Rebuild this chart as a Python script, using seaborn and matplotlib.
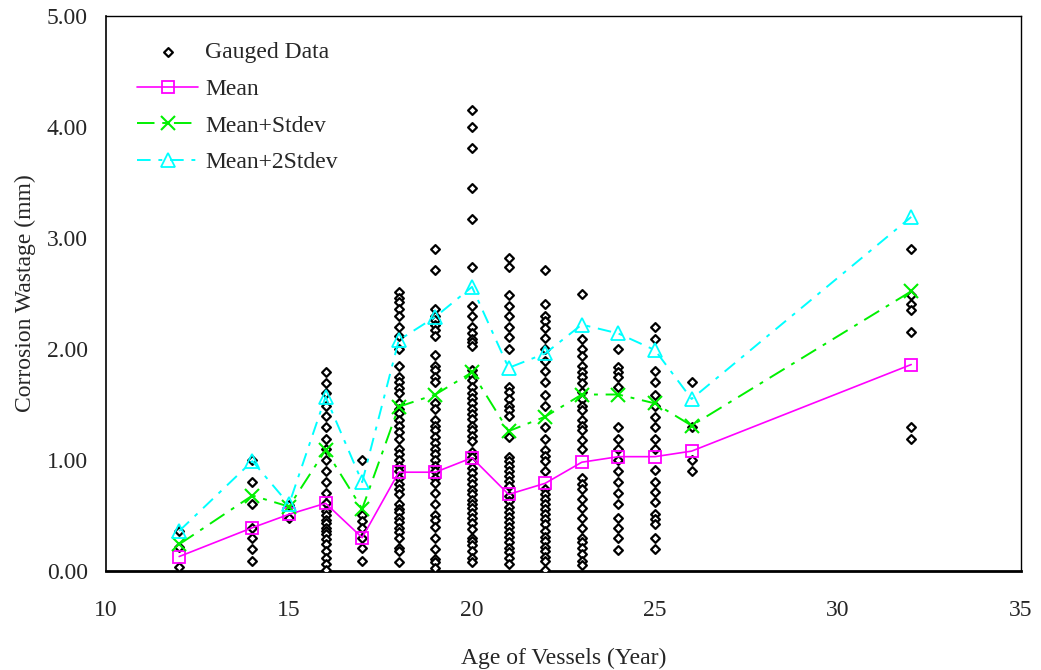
import matplotlib
matplotlib.use("Agg")
import matplotlib.pyplot as plt
from matplotlib.ticker import MultipleLocator, FormatStrFormatter
import numpy as np
import pandas as pd
import seaborn as sns

# Gauged corrosion wastage (mm) by vessel age (years)
age12 = [0.36, 0.22, 0.04]
age14 = [1.00, 0.80, 0.60, 0.39, 0.30, 0.20, 0.09]
age15 = [0.59, 0.48]
age16 = [1.79, 1.69, 1.60, 1.49, 1.40, 1.30, 1.19, 1.10, 1.00, 0.90, 0.80, 0.70,
         0.61, 0.54, 0.50, 0.46, 0.43, 0.39, 0.36, 0.33, 0.29, 0.24, 0.18, 0.12,
         0.06, 0.01]
age17 = [1.00, 0.50, 0.45, 0.39, 0.30, 0.21, 0.09]
age18 = [2.51, 2.46, 2.42, 2.36, 2.30, 2.20, 2.12, 2.00, 1.85, 1.75, 1.70, 1.65,
         1.60, 1.51, 1.46, 1.42, 1.36, 1.31, 1.25, 1.19, 1.10, 1.05, 1.00, 0.95,
         0.90, 0.84, 0.78, 0.74, 0.69, 0.60, 0.56, 0.53, 0.48, 0.44, 0.39, 0.35,
         0.30, 0.21, 0.18, 0.08]
age19 = [2.90, 2.71, 2.36, 2.30, 2.26, 2.22, 2.17, 2.12, 1.95, 1.85, 1.81, 1.75,
         1.70, 1.51, 1.46, 1.36, 1.31, 1.27, 1.21, 1.15, 1.10, 1.05, 1.00, 0.95,
         0.90, 0.84, 0.79, 0.70, 0.60, 0.50, 0.46, 0.40, 0.30, 0.20, 0.11, 0.08,
         0.03]
age20 = [4.15, 4.00, 3.81, 3.45, 3.17, 2.74, 2.39, 2.30, 2.20, 2.14, 2.09, 2.06,
         2.03, 1.81, 1.77, 1.72, 1.66, 1.60, 1.56, 1.51, 1.46, 1.41, 1.37, 1.31,
         1.27, 1.22, 1.17, 1.07, 1.03, 0.98, 0.93, 0.88, 0.83, 0.78, 0.73, 0.69,
         0.64, 0.60, 0.57, 0.52, 0.48, 0.43, 0.38, 0.30, 0.27, 0.23, 0.18, 0.12,
         0.08]
age21 = [2.82, 2.74, 2.49, 2.39, 2.30, 2.20, 2.11, 2.00, 1.66, 1.61, 1.55, 1.49,
         1.45, 1.40, 1.21, 1.03, 0.99, 0.95, 0.90, 0.86, 0.81, 0.77, 0.68, 0.63,
         0.58, 0.53, 0.49, 0.44, 0.40, 0.35, 0.31, 0.26, 0.21, 0.17, 0.12, 0.06]
age22 = [2.71, 2.41, 2.30, 2.25, 2.19, 2.10, 2.00, 1.89, 1.80, 1.70, 1.59, 1.49,
         1.30, 1.19, 1.09, 1.04, 0.99, 0.90, 0.74, 0.69, 0.65, 0.60, 0.56, 0.51,
         0.47, 0.42, 0.36, 0.31, 0.27, 0.22, 0.18, 0.13, 0.09, 0.01]
age23 = [2.50, 2.09, 2.00, 1.94, 1.85, 1.79, 1.75, 1.69, 1.61, 1.55, 1.49, 1.45,
         1.36, 1.31, 1.27, 1.18, 1.10, 0.84, 0.78, 0.74, 0.65, 0.57, 0.48, 0.39,
         0.30, 0.26, 0.21, 0.15, 0.09, 0.05]
age24 = [2.00, 1.84, 1.79, 1.75, 1.66, 1.30, 1.19, 1.10, 1.00, 0.90, 0.80, 0.70,
         0.60, 0.48, 0.39, 0.30, 0.19]
age25 = [2.20, 2.09, 1.80, 1.70, 1.59, 1.49, 1.39, 1.30, 1.19, 1.10, 0.91, 0.80,
         0.71, 0.62, 0.51, 0.47, 0.42, 0.30, 0.20]
age26 = [1.70, 1.30, 1.00, 0.90]
age32 = [2.90, 2.49, 2.41, 2.35, 2.15, 1.30, 1.19]

# Summary statistics per age
ages = [12, 14, 15, 16, 17, 18, 19, 20, 21, 22, 23, 24, 25, 26, 32]
mean = [0.13, 0.39, 0.51, 0.61, 0.30, 0.89, 0.89, 1.02, 0.69, 0.79, 0.98, 1.03,
        1.03, 1.08, 1.86]
mean_sd = [0.24, 0.68, 0.58, 1.09, 0.56, 1.48, 1.59, 1.79, 1.26, 1.39, 1.59, 1.59,
           1.51, 1.31, 2.52]
mean_2sd = [0.36, 0.99, 0.60, 1.57, 0.80, 2.08, 2.29, 2.56, 1.83, 1.96, 2.22, 2.14,
            1.99, 1.55, 3.19]

gauged_groups = [age12, age14, age15, age16, age17, age18, age19, age20, age21,
                 age22, age23, age24, age25, age26, age32]
gauged = pd.DataFrame({
    "age": np.concatenate([[a] * len(v) for a, v in zip(ages, gauged_groups)]),
    "wastage": np.concatenate(gauged_groups),
})
stats = pd.DataFrame({"age": ages, "mean": mean, "mean_sd": mean_sd,
                      "mean_2sd": mean_2sd})

sns.set_style("white")
plt.rcParams["font.family"] = ["Liberation Serif", "DejaVu Serif"]
plt.rcParams["font.size"] = 17

MAGENTA = "#ff00ff"
GREEN = "#00f000"
CYAN = "#00ffff"

fig = plt.figure(figsize=(10.41, 6.70), dpi=100)
ax = fig.add_axes([0.1018, 0.1478, 0.8790, 0.8282])

sns.scatterplot(data=gauged, x="age", y="wastage", ax=ax, marker="D", s=20,
                facecolor="white", edgecolor="black", linewidth=1.6,
                label="Gauged Data", zorder=3)
sns.lineplot(data=stats, x="age", y="mean", ax=ax, color=MAGENTA, lw=1.2,
             marker="s", markersize=8, markerfacecolor="none",
             markeredgecolor=MAGENTA, markeredgewidth=1.3,
             label="Mean", zorder=4)
sns.lineplot(data=stats, x="age", y="mean_sd", ax=ax, color=GREEN, lw=1.4,
             linestyle=(0, (9, 4, 2, 4)), marker="x", markersize=10,
             markeredgecolor=GREEN, markeredgewidth=1.5,
             label="Mean+Stdev", zorder=4)
sns.lineplot(data=stats, x="age", y="mean_2sd", ax=ax, color=CYAN, lw=1.4,
             linestyle=(0, (7, 4, 2, 4)), marker="^", markersize=10,
             markerfacecolor="none", markeredgecolor=CYAN,
             markeredgewidth=1.3, label="Mean+2Stdev", zorder=4)

ax.set_xlim(10, 35)
ax.set_ylim(0, 5)
ax.xaxis.set_major_locator(MultipleLocator(5))
ax.xaxis.set_minor_locator(MultipleLocator(1))
ax.yaxis.set_major_locator(MultipleLocator(1))
ax.yaxis.set_minor_locator(MultipleLocator(0.25))
ax.yaxis.set_major_formatter(FormatStrFormatter("%.2f"))

for side in ["left", "bottom", "top", "right"]:
    ax.spines[side].set_visible(True)
    ax.spines[side].set_color("black")
ax.spines["left"].set_linewidth(1.2)
ax.spines["bottom"].set_linewidth(2.0)
ax.spines["top"].set_linewidth(1.0)
ax.spines["right"].set_linewidth(1.0)

ax.tick_params(axis="x", which="major", direction="inout", length=12, width=0.8,
               pad=15, labelsize=17, color="#444444")
ax.tick_params(axis="x", which="minor", direction="in", length=5, width=0.8,
               color="#444444")
ax.tick_params(axis="y", which="major", direction="out", length=5, width=0.8,
               pad=8, labelsize=17)
ax.tick_params(axis="y", which="minor", direction="in", length=5, width=0.8)
ax.tick_params(top=False, right=False, which="both")

ax.set_xlabel("Age of Vessels (Year)", fontsize=17, labelpad=19)
ax.set_ylabel("Corrosion Wastage (mm)", fontsize=17, labelpad=8)

handles, labels = ax.get_legend_handles_labels()
ax.legend(handles, labels, loc="upper left", bbox_to_anchor=(0.021, 0.975),
          frameon=False, fontsize=17, handlelength=2.6, labelspacing=0.64,
          borderpad=0, handletextpad=0.3)

fig.savefig("out.png", dpi=100, facecolor="white")
